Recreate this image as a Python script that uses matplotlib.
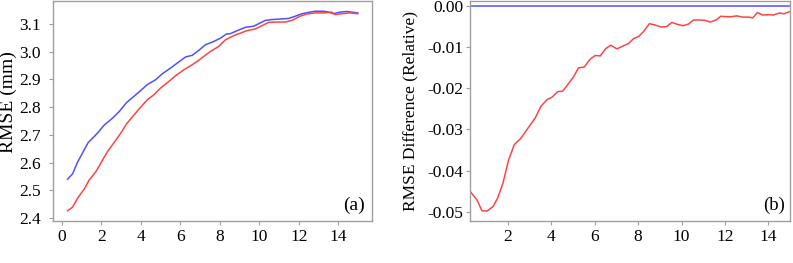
import numpy as np
import matplotlib
matplotlib.use('Agg')
import matplotlib.pyplot as plt

plt.rcParams['font.family'] = ['Liberation Serif', 'DejaVu Serif']
plt.rcParams['axes.unicode_minus'] = False

# panel (a): RMSE vs x
x_blue = [0.29, 0.54, 0.79, 1.04, 1.33, 1.8, 2.14, 2.56, 2.9, 3.28, 3.65, 3.99, 4.32, 4.75,
          5.08, 5.5, 5.84, 6.26, 6.6, 6.93, 7.27, 7.69, 8.03, 8.33, 8.53, 8.87, 9.29, 9.71,
          9.96, 10.3, 10.63, 11.05, 11.48, 11.81, 12.15, 12.49, 12.82, 13.24, 13.5, 13.75,
          14.08, 14.42, 14.76, 14.98]
rmse_blue = [2.540, 2.559, 2.601, 2.634, 2.672, 2.706, 2.735, 2.760, 2.784, 2.817, 2.839,
             2.860, 2.881, 2.899, 2.920, 2.941, 2.959, 2.981, 2.987, 3.005, 3.025, 3.037,
             3.049, 3.064, 3.065, 3.076, 3.088, 3.092, 3.101, 3.113, 3.116, 3.118, 3.120,
             3.128, 3.137, 3.142, 3.146, 3.146, 3.143, 3.137, 3.143, 3.145, 3.142, 3.140]

x_red = [0.29, 0.54, 0.79, 1.13, 1.38, 1.72, 1.97, 2.31, 2.64, 2.98, 3.28, 3.65, 3.99, 4.32,
         4.66, 5.0, 5.42, 5.75, 6.18, 6.51, 6.85, 7.18, 7.52, 7.94, 8.28, 8.7, 9.04, 9.37,
         9.79, 10.13, 10.47, 10.89, 11.31, 11.64, 12.06, 12.4, 12.82, 13.24, 13.66, 13.83,
         14.17, 14.59, 14.98]
rmse_red = [2.426, 2.439, 2.471, 2.504, 2.537, 2.567, 2.598, 2.640, 2.672, 2.706, 2.740,
            2.772, 2.800, 2.826, 2.845, 2.869, 2.893, 2.913, 2.935, 2.949, 2.965, 2.983,
            3.001, 3.019, 3.043, 3.058, 3.067, 3.076, 3.082, 3.094, 3.106, 3.107, 3.107,
            3.113, 3.128, 3.136, 3.140, 3.140, 3.143, 3.134, 3.137, 3.140, 3.137]

# panel (b): relative difference
x_diff = [0.27, 0.57, 0.8, 1.03, 1.31, 1.52, 1.77, 2.03, 2.29, 2.57, 2.87, 3.26, 3.52, 3.8,
          4.03, 4.29, 4.53, 4.79, 5.02, 5.25, 5.51, 5.79, 6.02, 6.25, 6.51, 6.74, 7.02, 7.3,
          7.56, 7.79, 8.02, 8.25, 8.52, 8.78, 9.05, 9.32, 9.55, 9.78, 10.06, 10.32, 10.55,
          10.86, 11.09, 11.32, 11.59, 11.81, 12.08, 12.31, 12.54, 12.82, 13.08, 13.28, 13.5,
          13.74, 14.0, 14.23, 14.51, 14.72, 14.97]
diff_red = [-0.0451, -0.0471, -0.0497, -0.0498, -0.0487, -0.0467, -0.0430, -0.0374, -0.0337,
            -0.0323, -0.0301, -0.0272, -0.0244, -0.0228, -0.0222, -0.0209, -0.0207, -0.0189,
            -0.0173, -0.0151, -0.0149, -0.0130, -0.0121, -0.0122, -0.0104, -0.0096, -0.0105,
            -0.0098, -0.0092, -0.0080, -0.0075, -0.0063, -0.0044, -0.0047, -0.0052, -0.0051,
            -0.0041, -0.0045, -0.0049, -0.0045, -0.0035, -0.0035, -0.0036, -0.0040, -0.0035,
            -0.0026, -0.0027, -0.0027, -0.0025, -0.0028, -0.0028, -0.0030, -0.0017, -0.0023,
            -0.0022, -0.0023, -0.0018, -0.0020, -0.0015]
x_zero = [0.25, 15.0]
diff_zero = [0.0, 0.0]

BLUE = '#5050ff'
RED = '#ff4444'
GRAY = '#a0a0a0'

fig = plt.figure(figsize=(7.93, 2.63), dpi=100)
ax1 = fig.add_axes([53/793, 42/263, 319/793, 220/263])
ax2 = fig.add_axes([470/793, 42/263, 320/793, 220/263])

ax1.plot(x_blue, rmse_blue, color=BLUE, lw=1.1)
ax1.plot(x_red, rmse_red, color=RED, lw=1.1)
ax1.set_xlim(-0.45, 15.7)
ax1.set_ylim(2.389, 3.183)
ax1.set_xticks(np.arange(0, 15, 2))
ax1.set_yticks(np.arange(2.4, 3.15, 0.1))
ax1.yaxis.set_major_formatter(matplotlib.ticker.FormatStrFormatter('%.1f'))
ax1.set_ylabel('RMSE (mm)', fontsize=14)
ax1.yaxis.set_label_coords(-0.112, 0.54)
ax1.text(0.978, 0.05, '(a)', transform=ax1.transAxes, ha='right', va='baseline', fontsize=14)

ax2.plot(x_zero, diff_zero, color=BLUE, lw=1.1)
ax2.plot(x_diff, diff_red, color=RED, lw=1.1)
ax2.set_xlim(0.25, 15.0)
ax2.set_ylim(-0.0522, 0.0011)
ax2.set_xticks(np.arange(2, 15, 2))
ax2.set_yticks([0.0, -0.01, -0.02, -0.03, -0.04, -0.05])
ax2.yaxis.set_major_formatter(matplotlib.ticker.FormatStrFormatter('%.2f'))
ax2.set_ylabel('RMSE Difference (Relative)', fontsize=12.5)
ax2.yaxis.set_label_coords(-0.16, 0.5)
ax2.text(0.984, 0.05, '(b)', transform=ax2.transAxes, ha='right', va='baseline', fontsize=13.5)

for ax in (ax1, ax2):
    for sp in ax.spines.values():
        sp.set_color(GRAY)
        sp.set_linewidth(1.0)
    ax.tick_params(colors=GRAY, labelcolor='black', length=3, width=0.8, labelsize=12.5)
    ax.tick_params(axis='x', pad=3)
ax1.tick_params(axis='y', pad=6)
ax2.tick_params(axis='y', pad=2)

fig.savefig('out.png', dpi=100)
